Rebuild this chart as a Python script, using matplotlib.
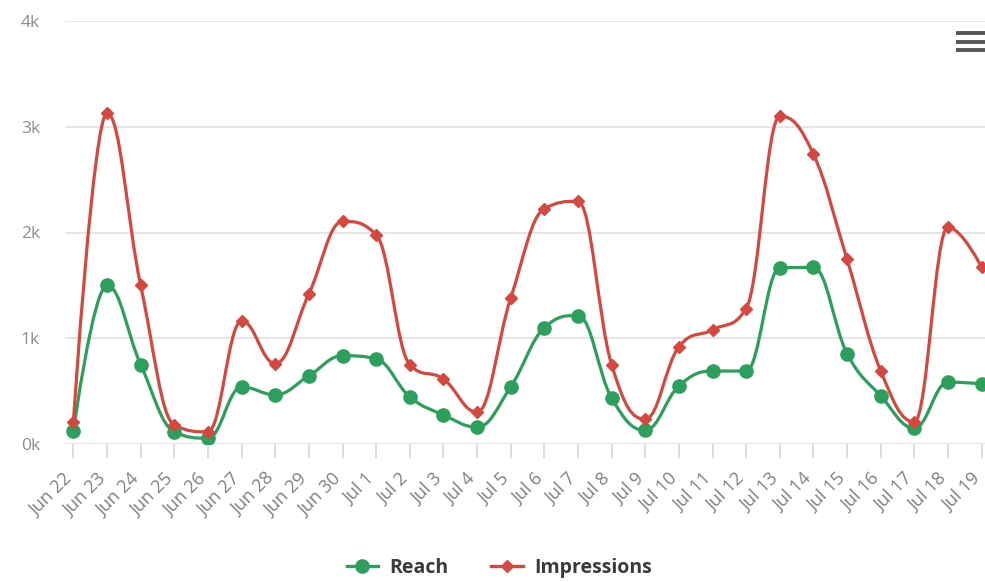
import numpy as np
import matplotlib
matplotlib.use("Agg")
import matplotlib.pyplot as plt
from matplotlib.path import Path
from matplotlib.patches import PathPatch
from matplotlib.lines import Line2D
from matplotlib.transforms import ScaledTranslation

dates = ["Jun 22", "Jun 23", "Jun 24", "Jun 25", "Jun 26", "Jun 27", "Jun 28",
         "Jun 29", "Jun 30", "Jul 1", "Jul 2", "Jul 3", "Jul 4", "Jul 5",
         "Jul 6", "Jul 7", "Jul 8", "Jul 9", "Jul 10", "Jul 11", "Jul 12",
         "Jul 13", "Jul 14", "Jul 15", "Jul 16", "Jul 17", "Jul 18", "Jul 19"]
reach = [123, 1500, 750, 115, 55, 540, 465, 645, 835, 805, 445, 275, 160, 540,
         1100, 1215, 435, 130, 550, 690, 690, 1665, 1670, 855, 455, 150, 585, 570]
impressions = [210, 3130, 1500, 180, 115, 1165, 760, 1420, 2105, 1980, 750, 615,
               300, 1380, 2225, 2295, 750, 235, 920, 1080, 1280, 3100, 2740, 1745,
               690, 210, 2050, 1670]
y_ticks = [0, 1000, 2000, 3000, 4000]
y_labels = ["0k", "1k", "2k", "3k", "4k"]

GREEN = "#2c9f5c"
RED = "#d5483f"


def spline_path(xs, ys, smoothing=1.5):
    # highcharts style spline: bezier control points from neighbours
    denom = smoothing + 1
    n = len(xs)
    lc = [None] * n
    rc = [None] * n
    for i in range(1, n - 1):
        px, py = xs[i], ys[i]
        lx, ly = xs[i - 1], ys[i - 1]
        nx, ny = xs[i + 1], ys[i + 1]
        lcx = (smoothing * px + lx) / denom
        lcy = (smoothing * py + ly) / denom
        rcx = (smoothing * px + nx) / denom
        rcy = (smoothing * py + ny) / denom
        if rcx != lcx:
            corr = (rcy - lcy) * (rcx - px) / (rcx - lcx) + py - rcy
            lcy += corr
            rcy += corr
        if lcy > ly and lcy > py:
            lcy = max(ly, py)
            rcy = 2 * py - lcy
        elif lcy < ly and lcy < py:
            lcy = min(ly, py)
            rcy = 2 * py - lcy
        if rcy > ny and rcy > py:
            rcy = max(ny, py)
            lcy = 2 * py - rcy
        elif rcy < ny and rcy < py:
            rcy = min(ny, py)
            lcy = 2 * py - rcy
        lc[i] = (lcx, lcy)
        rc[i] = (rcx, rcy)
    verts = [(xs[0], ys[0])]
    codes = [Path.MOVETO]
    for i in range(1, n):
        c1 = rc[i - 1] if rc[i - 1] is not None else (xs[i - 1], ys[i - 1])
        c2 = lc[i] if lc[i] is not None else (xs[i], ys[i])
        verts += [c1, c2, (xs[i], ys[i])]
        codes += [Path.CURVE4] * 3
    return Path(verts, codes)


plt.rcParams['font.family'] = ['Open Sans', 'DejaVu Sans']

fig = plt.figure(figsize=(9.85, 5.82), dpi=100)
ax = fig.add_axes([65 / 985, 138 / 582, 920 / 985, 423 / 582])

x = np.arange(len(dates))
ax.set_xlim(-0.25, len(dates) - 1 + 0.1)
ax.set_ylim(0, 4000)

for t in y_ticks[1:]:
    ax.axhline(t, color="#e6e6e6", lw=1.4, zorder=0)
ax.axhline(0, color="#d8dde6", lw=1.8, zorder=0)

for vals, col, mk, ms in [(reach, GREEN, "o", 9.5), (impressions, RED, "D", 6)]:
    ax.add_patch(PathPatch(spline_path(list(x), list(vals)), fill=False,
                           edgecolor=col, lw=2.3, zorder=2, capstyle="round"))
    ax.plot(x, vals, ls="none", marker=mk, ms=ms, color=col, zorder=3)

for s in ax.spines.values():
    s.set_visible(False)

ax.set_yticks(y_ticks)
ax.set_yticklabels(y_labels)
ax.tick_params(axis="y", length=0, pad=18, labelsize=12.5, labelcolor="#8c8c8c")

ax.set_xticks(x)
ax.set_xticklabels(dates, rotation=45, ha="right", va="center",
                   rotation_mode="anchor")
ax.tick_params(axis="x", length=10, width=1.4, color="#d8dde6", pad=13,
               labelsize=13, labelcolor="#808080")
shift = ScaledTranslation(-3 / 72, 0, fig.dpi_scale_trans)
for lbl in ax.get_xticklabels():
    lbl.set_transform(lbl.get_transform() + shift)

# hamburger menu icon
for yy in [1 - 33 / 582, 1 - 42 / 582, 1 - 50 / 582]:
    fig.add_artist(Line2D([958 / 985, 984 / 985], [yy, yy], color="#555555", lw=2.8))

handles = [Line2D([], [], color=GREEN, lw=2.4, marker="o", ms=9.5),
           Line2D([], [], color=RED, lw=2.4, marker="D", ms=6)]
leg = fig.legend(handles, ["Reach", "Impressions"], loc="center",
                 bbox_to_anchor=(0.507, 0.024), ncol=2, frameon=False,
                 handlelength=1.6, columnspacing=2.2, handletextpad=0.6,
                 prop={"weight": "bold", "size": 14})
for t in leg.get_texts():
    t.set_color("#3a3a3a")

fig.savefig("out.png", dpi=100)
